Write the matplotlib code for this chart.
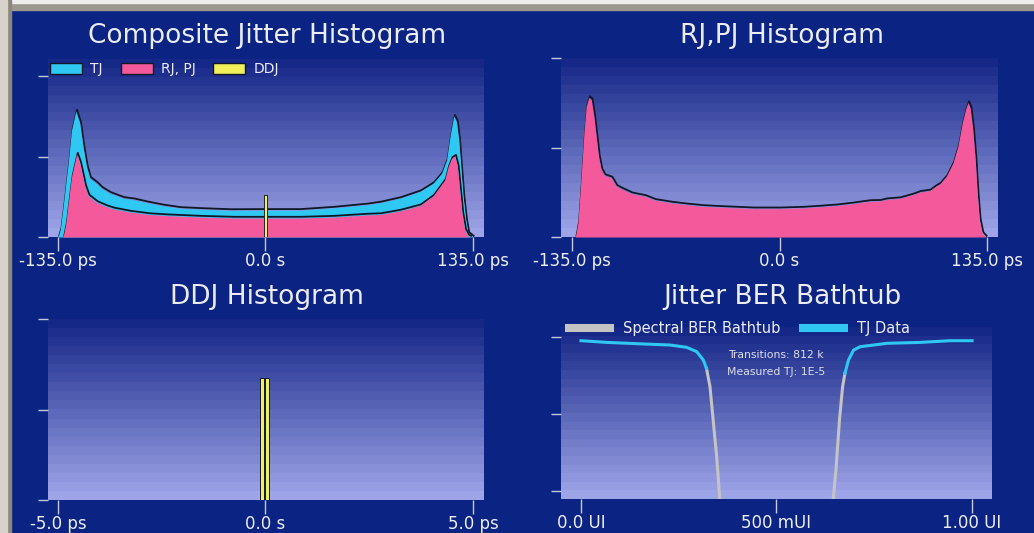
import numpy as np
import matplotlib
matplotlib.use('Agg')
import matplotlib.pyplot as plt
from matplotlib.patches import Patch, Rectangle
from matplotlib.lines import Line2D
from matplotlib.transforms import ScaledTranslation

## composite jitter histogram (ps, normalised counts)
tj_ps = [-135.0, -133.5, -131.7, -128.4, -126.2, -123.4, -120.8, -118.7, -116.5, -114.3,
         -110.0, -106.7, -101.3, -92.6, -86.1, -77.4, -66.6, -55.8, -42.7, -23.2,
         0.0, 22.3, 44.0, 65.7, 74.4, 87.4, 100.4, 109.0, 114.5, 117.8,
         120.4, 122.5, 124.3, 125.8, 127.1, 128.6, 130.3, 131.8, 134.7]
tj_cnt = [0.0, 0.05, 0.188, 0.458, 0.665, 0.783, 0.706, 0.561, 0.437, 0.364,
          0.333, 0.302, 0.271, 0.24, 0.232, 0.213, 0.193, 0.178, 0.172, 0.165,
          0.166, 0.166, 0.18, 0.2, 0.212, 0.24, 0.282, 0.333, 0.395, 0.478,
          0.644, 0.752, 0.716, 0.602, 0.437, 0.25, 0.106, 0.023, 0.0]
rjpj_ps = [-131.7, -130.0, -128.4, -126.2, -122.9, -120.8, -117.5, -115.3, -110.0, -104.0,
           -99.2, -88.3, -76.0, -64.4, -42.7, -21.1, 0.0, 22.3, 44.0, 65.7,
           74.4, 87.4, 100.4, 109.0, 116.6, 118.8, 121.0, 123.2, 124.9, 126.4,
           127.9, 129.7, 131.8, 133.0]
rjpj_cnt = [0.0, 0.08, 0.209, 0.375, 0.516, 0.458, 0.313, 0.255, 0.215, 0.19,
            0.175, 0.155, 0.14, 0.133, 0.124, 0.118, 0.118, 0.118, 0.124, 0.137,
            0.14, 0.162, 0.195, 0.255, 0.354, 0.437, 0.489, 0.503, 0.437, 0.292,
            0.147, 0.043, 0.006, 0.0]
ddj_ps = [-0.085, 0.04]
ddj_cnt_comp = [0.263, 0.263]

## RJ,PJ histogram
rj_ps = [-132.9, -131.2, -129.4, -127.3, -125.8, -124.1, -122.5, -120.8, -119.3, -117.8,
         -116.1, -114.0, -109.5, -106.3, -103.0, -96.5, -87.8, -81.3, -70.5, -60.7,
         -49.9, -39.0, -28.2, -17.4, 0.0, 15.2, 26.0, 36.9, 47.7, 58.6,
         65.0, 69.4, 78.1, 86.7, 91.1, 97.6, 101.9, 104.1, 108.5, 112.8,
         116.1, 118.9, 121.0, 122.6, 124.1, 125.8, 127.4, 128.7, 130.1, 131.9, 134.0]
rj_cnt = [0.0, 0.078, 0.30, 0.58, 0.73, 0.78, 0.767, 0.674, 0.562, 0.45,
          0.376, 0.343, 0.33, 0.283, 0.268, 0.242, 0.227, 0.205, 0.19, 0.18,
          0.171, 0.166, 0.162, 0.158, 0.158, 0.162, 0.168, 0.175, 0.186, 0.199,
          0.2, 0.209, 0.215, 0.236, 0.25, 0.258, 0.285, 0.295, 0.339, 0.413,
          0.507, 0.637, 0.711, 0.752, 0.72, 0.6, 0.43, 0.244, 0.095, 0.02, 0.0]

## DDJ histogram
ddj_cnt = [0.674, 0.674]

## BER bathtub (UI, scaled log BER)
tj_left_ui = [0.0, 0.066, 0.168, 0.228, 0.270, 0.296, 0.313, 0.321]
tj_left_ber = [0.974, 0.963, 0.952, 0.946, 0.931, 0.903, 0.848, 0.794]
sp_left_ui = [0.321, 0.330, 0.338, 0.347, 0.355]
sp_left_ber = [0.794, 0.675, 0.459, 0.221, -0.056]
sp_right_ui = [0.645, 0.652, 0.661, 0.669, 0.675]
sp_right_ber = [-0.056, 0.134, 0.459, 0.675, 0.762]
tj_right_ui = [0.675, 0.684, 0.697, 0.714, 0.782, 0.867, 0.944, 1.0]
tj_right_ber = [0.762, 0.848, 0.913, 0.935, 0.957, 0.963, 0.974, 0.974]

W, H = 1034, 533
NAVY = '#0b2484'
TXT = '#ececf4'
TICK = '#c4c8e0'
PINK = '#f4599b'
CYAN = '#2fc8f2'
YELLOW = '#f0f05a'
GRAY = '#c4c4c4'
EDGE = '#101828'

plt.rcParams['font.family'] = 'DejaVu Sans'
fig = plt.figure(figsize=(W / 100, H / 100), dpi=100, facecolor=NAVY)

# window border (top and left)
fig.add_artist(Rectangle((0, 1 - 10 / H), 1, 10 / H, transform=fig.transFigure, color='#9c988f', zorder=-1))
fig.add_artist(Rectangle((0, 1 - 3 / H), 1, 3 / H, transform=fig.transFigure, color='#eeeeee', zorder=-1))
fig.add_artist(Rectangle((0, 0), 11 / W, 1, transform=fig.transFigure, color='#8c877c', zorder=-1))
fig.add_artist(Rectangle((0, 0), 7 / W, 1, transform=fig.transFigure, color='#d6d3cb', zorder=-1))

top_c = np.array([22, 40, 135]) / 255
bot_c = np.array([158, 164, 232]) / 255
nb = 20
grad = np.array([top_c + (bot_c - top_c) * i / (nb - 1) for i in range(nb)]).reshape(nb, 1, 3)

shadow = ScaledTranslation(0.012, 0.012, fig.dpi_scale_trans)


def panel(l, t, r, b):
    ax = fig.add_axes([l / W, 1 - b / H, (r - l) / W, (b - t) / H])
    ax.set_facecolor(NAVY)
    ax.imshow(grad, extent=[0, 1, 0, 1], transform=ax.transAxes, aspect='auto',
              interpolation='nearest', zorder=0)
    for s in ax.spines.values():
        s.set_visible(False)
    ax.tick_params(axis='x', length=10, width=1, color=TICK, labelcolor=TXT, labelsize=12, pad=1)
    ax.tick_params(axis='y', length=7, width=1, color=TICK, labelleft=False)
    return ax


def hist(ax, x, y, color, z):
    ax.plot(x, y, color=EDGE, lw=1.3, transform=ax.transData + shadow, zorder=z)
    ax.fill_between(x, 0, y, color=color, lw=0, zorder=z + 1)


# composite
ax1 = panel(48, 59, 484, 237)
hist(ax1, tj_ps, tj_cnt, CYAN, 2)
hist(ax1, rjpj_ps, rjpj_cnt, PINK, 4)
ax1.bar(ddj_ps, ddj_cnt_comp, width=1.8, color=YELLOW, edgecolor=EDGE, lw=0.6, zorder=6)
ax1.set_xlim(-141.5, 142.2)
ax1.set_ylim(0, 1.106)
ax1.set_yticks([0, 0.5, 1.0])
ax1.set_xticks([-135, 0, 135])
ax1.set_xticklabels(['-135.0 ps', '0.0 s', '135.0 ps'])
fig.text(267 / W, 1 - 43 / H, 'Composite Jitter Histogram', ha='center', va='baseline', fontsize=19, color=TXT)
h1 = [Patch(facecolor=c, edgecolor=EDGE, lw=1) for c in (CYAN, PINK, YELLOW)]
fig.legend(h1, ['TJ', 'RJ, PJ', 'DDJ'], loc='center left', bbox_to_anchor=(50 / W, 1 - 69 / H),
           ncol=3, frameon=False, fontsize=10, labelcolor=TXT, borderpad=0, borderaxespad=0,
           handlelength=2.3, handleheight=0.86, handletextpad=0.58, columnspacing=1.3)

# RJ,PJ
ax2 = panel(561, 58, 998, 237)
hist(ax2, rj_ps, rj_cnt, PINK, 2)
ax2.set_xlim(-142.2, 142.2)
ax2.set_ylim(0, 1)
ax2.set_yticks([0, 0.5, 1.0])
ax2.set_xticks([-135, 0, 135])
ax2.set_xticklabels(['-135.0 ps', '0.0 s', '135.0 ps'])
fig.text(782 / W, 1 - 43 / H, 'RJ,PJ Histogram', ha='center', va='baseline', fontsize=19, color=TXT)

# DDJ
ax3 = panel(48, 319, 484, 500)
ax3.bar(ddj_ps, ddj_cnt, width=0.09, color=YELLOW, edgecolor=EDGE, lw=0.7, zorder=3)
ax3.set_xlim(-5.24, 5.265)
ax3.set_ylim(0, 1)
ax3.set_yticks([0, 0.5, 1.0])
ax3.set_xticks([-5, 0, 5])
ax3.set_xticklabels(['-5.0 ps', '0.0 s', '5.0 ps'])
fig.text(267 / W, 1 - 304 / H, 'DDJ Histogram', ha='center', va='baseline', fontsize=19, color=TXT)

# bathtub
ax4 = panel(561, 327, 992, 499)
ax4.plot(sp_left_ui, sp_left_ber, color=GRAY, lw=2.2, zorder=3)
ax4.plot(sp_right_ui, sp_right_ber, color=GRAY, lw=2.2, zorder=3)
ax4.plot(tj_left_ui, tj_left_ber, color=CYAN, lw=2.2, zorder=4)
ax4.plot(tj_right_ui, tj_right_ber, color=CYAN, lw=2.2, zorder=4)
ax4.set_xlim(-0.051, 1.051)
ax4.set_ylim(-0.054, 1.063)
ax4.set_yticks([0, 0.5, 1.0])
ax4.set_xticks([0, 0.5, 1.0])
ax4.set_xticklabels(['0.0 UI', '500 mUI', '1.00 UI'])
fig.text(782 / W, 1 - 304 / H, 'Jitter BER Bathtub', ha='center', va='baseline', fontsize=19, color=TXT)
fig.text(776 / W, 1 - 358 / H, 'Transitions: 812 k', ha='center', va='baseline', fontsize=7.8, color='#dcdce8')
fig.text(776 / W, 1 - 375 / H, 'Measured TJ: 1E-5', ha='center', va='baseline', fontsize=7.8, color='#dcdce8')
h4 = [Line2D([], [], color=c, lw=5.8, solid_capstyle='butt') for c in (GRAY, CYAN)]
fig.legend(h4, ['Spectral BER Bathtub', 'TJ Data'], loc='center left', bbox_to_anchor=(565 / W, 1 - 329 / H),
           ncol=2, frameon=False, fontsize=10.5, labelcolor=TXT, borderpad=0, borderaxespad=0,
           handlelength=3.35, handletextpad=0.62, columnspacing=1.3)

fig.savefig('out.png', dpi=100, facecolor=NAVY)
